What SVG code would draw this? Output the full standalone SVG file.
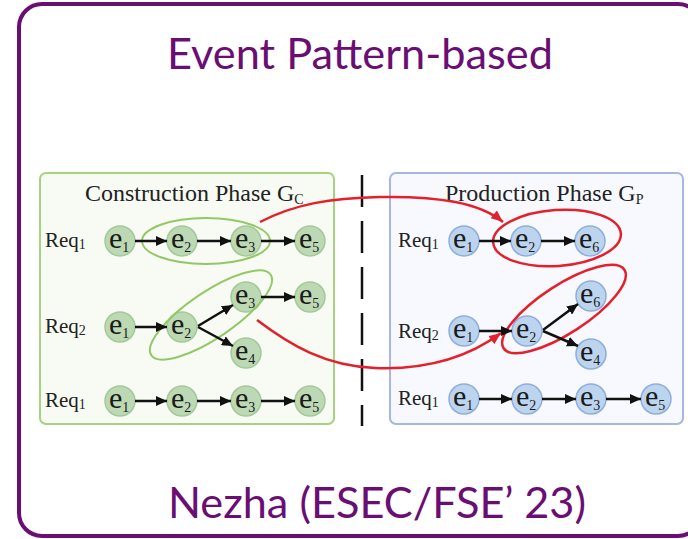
<svg xmlns="http://www.w3.org/2000/svg" width="688" height="539" viewBox="0 0 688 539">
  <style>
    .frame { fill: #ffffff; stroke: #6a0e73; stroke-width: 4; }
    .heading { font-family: "Lato", "Open Sans", "Liberation Sans", sans-serif; fill: #6a0e73; font-size: 43px; }
    .phase { font-family: "Liberation Serif", "Times New Roman", serif; fill: #222; font-size: 24px; }
    .req { font-family: "Liberation Serif", "Times New Roman", serif; fill: #222; font-size: 21px; }
    .ev { font-family: "Liberation Serif", "Times New Roman", serif; fill: #1a1a1a; font-size: 30px; }
    .sub { font-size: 14px; }
    .gbox { fill: #f8fbf3; stroke: #a9d27f; stroke-width: 2; }
    .bbox { fill: #f7f9fe; stroke: #a6b7e6; stroke-width: 2; }
    .gnode circle { fill: #bcd9b4; stroke: #a3c99a; stroke-width: 1.5; }
    .bnode circle { fill: #bdd4ef; stroke: #8eaedc; stroke-width: 1.5; }
    .edge { stroke: #111; stroke-width: 2.5; fill: none; marker-end: url(#blk); }
    .gloop { fill: none; stroke: #94c866; stroke-width: 2; }
    .rloop { fill: none; stroke: #e3202b; stroke-width: 2.5; }
    .link { fill: none; stroke: #e3202b; stroke-width: 2.5; marker-end: url(#red); }
    .split { stroke: #111; stroke-width: 2.5; stroke-dasharray: 32 14; }
  </style>
  <defs>
    <marker id="blk" markerUnits="userSpaceOnUse" markerWidth="11" markerHeight="10" refX="11" refY="5" orient="auto">
      <path d="M0,0 L11,5 L0,10 z" fill="#111"/>
    </marker>
    <marker id="red" markerUnits="userSpaceOnUse" markerWidth="12" markerHeight="10" refX="12" refY="5" orient="auto">
      <path d="M0,0 L12,5 L0,10 z" fill="#e3202b"/>
    </marker>
  </defs>

  <!-- outer frame -->
  <rect class="frame" x="19" y="4" width="682" height="532" rx="23"/>
  <text class="heading" x="167" y="69" textLength="386" lengthAdjust="spacingAndGlyphs">Event Pattern-based</text>
  <text class="heading" x="168" y="518" textLength="418" lengthAdjust="spacingAndGlyphs">Nezha (ESEC/FSE’ 23)</text>

  <!-- phase panels -->
  <g id="construction-phase">
    <rect class="gbox" x="40" y="173" width="294" height="251" rx="6"/>
    <text class="phase" x="85" y="201">Construction Phase G<tspan class="sub" dy="3" font-size="15">C</tspan></text>
  </g>
  <g id="production-phase">
    <rect class="bbox" x="390" y="173" width="293" height="251" rx="6"/>
    <text class="phase" x="445" y="201">Production Phase G<tspan class="sub" dy="3" font-size="13">P</tspan></text>
  </g>
  <line id="divider" class="split" x1="362" y1="175" x2="362" y2="426"/>

  <!-- request labels -->
  <g id="labels">
    <text class="req" x="45" y="247">Req<tspan class="sub" dy="2" font-size="12">1</tspan></text>
    <text class="req" x="45" y="333">Req<tspan class="sub" dy="2" font-size="14">2</tspan></text>
    <text class="req" x="45" y="407">Req<tspan class="sub" dy="2" font-size="12">1</tspan></text>
    <text class="req" x="398" y="247">Req<tspan class="sub" dy="2" font-size="12">1</tspan></text>
    <text class="req" x="398" y="338">Req<tspan class="sub" dy="2" font-size="14">2</tspan></text>
    <text class="req" x="398" y="405">Req<tspan class="sub" dy="2" font-size="12">1</tspan></text>
  </g>

  <!-- construction phase events -->
  <g id="g1-e1" class="gnode"><circle cx="120" cy="241" r="15"/><text class="ev" x="109" y="248">e<tspan class="sub" dy="4">1</tspan></text></g>
  <g id="g1-e2" class="gnode"><circle cx="182" cy="241" r="15"/><text class="ev" x="171" y="248">e<tspan class="sub" dy="4">2</tspan></text></g>
  <g id="g1-e3" class="gnode"><circle cx="246" cy="241" r="15"/><text class="ev" x="235" y="248">e<tspan class="sub" dy="4">3</tspan></text></g>
  <g id="g1-e5" class="gnode"><circle cx="310" cy="241" r="15"/><text class="ev" x="299" y="248">e<tspan class="sub" dy="4">5</tspan></text></g>

  <g id="g2-e1" class="gnode"><circle cx="120" cy="327" r="15"/><text class="ev" x="109" y="334">e<tspan class="sub" dy="4">1</tspan></text></g>
  <g id="g2-e2" class="gnode"><circle cx="182" cy="327" r="15"/><text class="ev" x="171" y="334">e<tspan class="sub" dy="4">2</tspan></text></g>
  <g id="g2-e3" class="gnode"><circle cx="246" cy="297" r="15"/><text class="ev" x="235" y="304">e<tspan class="sub" dy="4">3</tspan></text></g>
  <g id="g2-e5" class="gnode"><circle cx="310" cy="297" r="15"/><text class="ev" x="299" y="304">e<tspan class="sub" dy="4">5</tspan></text></g>
  <g id="g2-e4" class="gnode"><circle cx="246" cy="353" r="15"/><text class="ev" x="235" y="360">e<tspan class="sub" dy="4">4</tspan></text></g>

  <g id="g3-e1" class="gnode"><circle cx="120" cy="401" r="15"/><text class="ev" x="109" y="408">e<tspan class="sub" dy="4">1</tspan></text></g>
  <g id="g3-e2" class="gnode"><circle cx="182" cy="401" r="15"/><text class="ev" x="171" y="408">e<tspan class="sub" dy="4">2</tspan></text></g>
  <g id="g3-e3" class="gnode"><circle cx="246" cy="401" r="15"/><text class="ev" x="235" y="408">e<tspan class="sub" dy="4">3</tspan></text></g>
  <g id="g3-e5" class="gnode"><circle cx="310" cy="401" r="15"/><text class="ev" x="299" y="408">e<tspan class="sub" dy="4">5</tspan></text></g>

  <!-- production phase events -->
  <g id="p1-e1" class="bnode"><circle cx="464" cy="241" r="15"/><text class="ev" x="453" y="248">e<tspan class="sub" dy="4">1</tspan></text></g>
  <g id="p1-e2" class="bnode"><circle cx="526" cy="241" r="15"/><text class="ev" x="515" y="248">e<tspan class="sub" dy="4">2</tspan></text></g>
  <g id="p1-e6" class="bnode"><circle cx="590" cy="241" r="15"/><text class="ev" x="579" y="248">e<tspan class="sub" dy="4">6</tspan></text></g>

  <g id="p2-e1" class="bnode"><circle cx="464" cy="331" r="15"/><text class="ev" x="453" y="338">e<tspan class="sub" dy="4">1</tspan></text></g>
  <g id="p2-e2" class="bnode"><circle cx="527" cy="331" r="15"/><text class="ev" x="516" y="338">e<tspan class="sub" dy="4">2</tspan></text></g>
  <g id="p2-e6" class="bnode"><circle cx="591" cy="296" r="15"/><text class="ev" x="580" y="303">e<tspan class="sub" dy="4">6</tspan></text></g>
  <g id="p2-e4" class="bnode"><circle cx="591" cy="354" r="15"/><text class="ev" x="580" y="361">e<tspan class="sub" dy="4">4</tspan></text></g>

  <g id="p3-e1" class="bnode"><circle cx="464" cy="399" r="15"/><text class="ev" x="453" y="406">e<tspan class="sub" dy="4">1</tspan></text></g>
  <g id="p3-e2" class="bnode"><circle cx="527" cy="399" r="15"/><text class="ev" x="516" y="406">e<tspan class="sub" dy="4">2</tspan></text></g>
  <g id="p3-e3" class="bnode"><circle cx="591" cy="399" r="15"/><text class="ev" x="580" y="406">e<tspan class="sub" dy="4">3</tspan></text></g>
  <g id="p3-e5" class="bnode"><circle cx="656" cy="399" r="15"/><text class="ev" x="645" y="406">e<tspan class="sub" dy="4">5</tspan></text></g>

  <!-- pattern outlines -->
  <g id="patterns">
    <ellipse class="gloop" cx="206" cy="241" rx="64" ry="23"/>
    <ellipse class="gloop" cx="211" cy="315" rx="72" ry="23" transform="rotate(-34 211 315)"/>
    <ellipse class="rloop" cx="557" cy="238" rx="64" ry="28" transform="rotate(-4 557 238)"/>
    <ellipse class="rloop" cx="564" cy="309" rx="72" ry="24" transform="rotate(-33 564 309)"/>
  </g>

  <!-- connectors -->
  <g id="connectors">
    <line class="edge" x1="135" y1="241" x2="167" y2="241"/>
    <line class="edge" x1="197" y1="241" x2="231" y2="241"/>
    <line class="edge" x1="261" y1="241" x2="295" y2="241"/>

    <line class="edge" x1="135" y1="327" x2="167" y2="327"/>
    <line class="edge" x1="198" y1="326" x2="233" y2="305"/>
    <line class="edge" x1="198" y1="327" x2="233" y2="346"/>
    <line class="edge" x1="261" y1="297" x2="295" y2="297"/>

    <line class="edge" x1="135" y1="401" x2="167" y2="401"/>
    <line class="edge" x1="197" y1="401" x2="231" y2="401"/>
    <line class="edge" x1="261" y1="401" x2="295" y2="401"/>

    <line class="edge" x1="479" y1="241" x2="511" y2="241"/>
    <line class="edge" x1="541" y1="241" x2="575" y2="241"/>

    <line class="edge" x1="479" y1="331" x2="512" y2="331"/>
    <line class="edge" x1="543" y1="330" x2="578" y2="304"/>
    <line class="edge" x1="543" y1="331" x2="578" y2="346"/>

    <line class="edge" x1="479" y1="399" x2="512" y2="399"/>
    <line class="edge" x1="542" y1="399" x2="576" y2="399"/>
    <line class="edge" x1="606" y1="399" x2="641" y2="399"/>

    <path class="link" d="M 260 222 C 295 204, 330 198, 380 197 C 440 196, 480 203, 503 222"/>
    <path class="link" d="M 257 320 C 290 345, 325 366, 375 368 C 430 370, 470 356, 501 333"/>
  </g>
</svg>
